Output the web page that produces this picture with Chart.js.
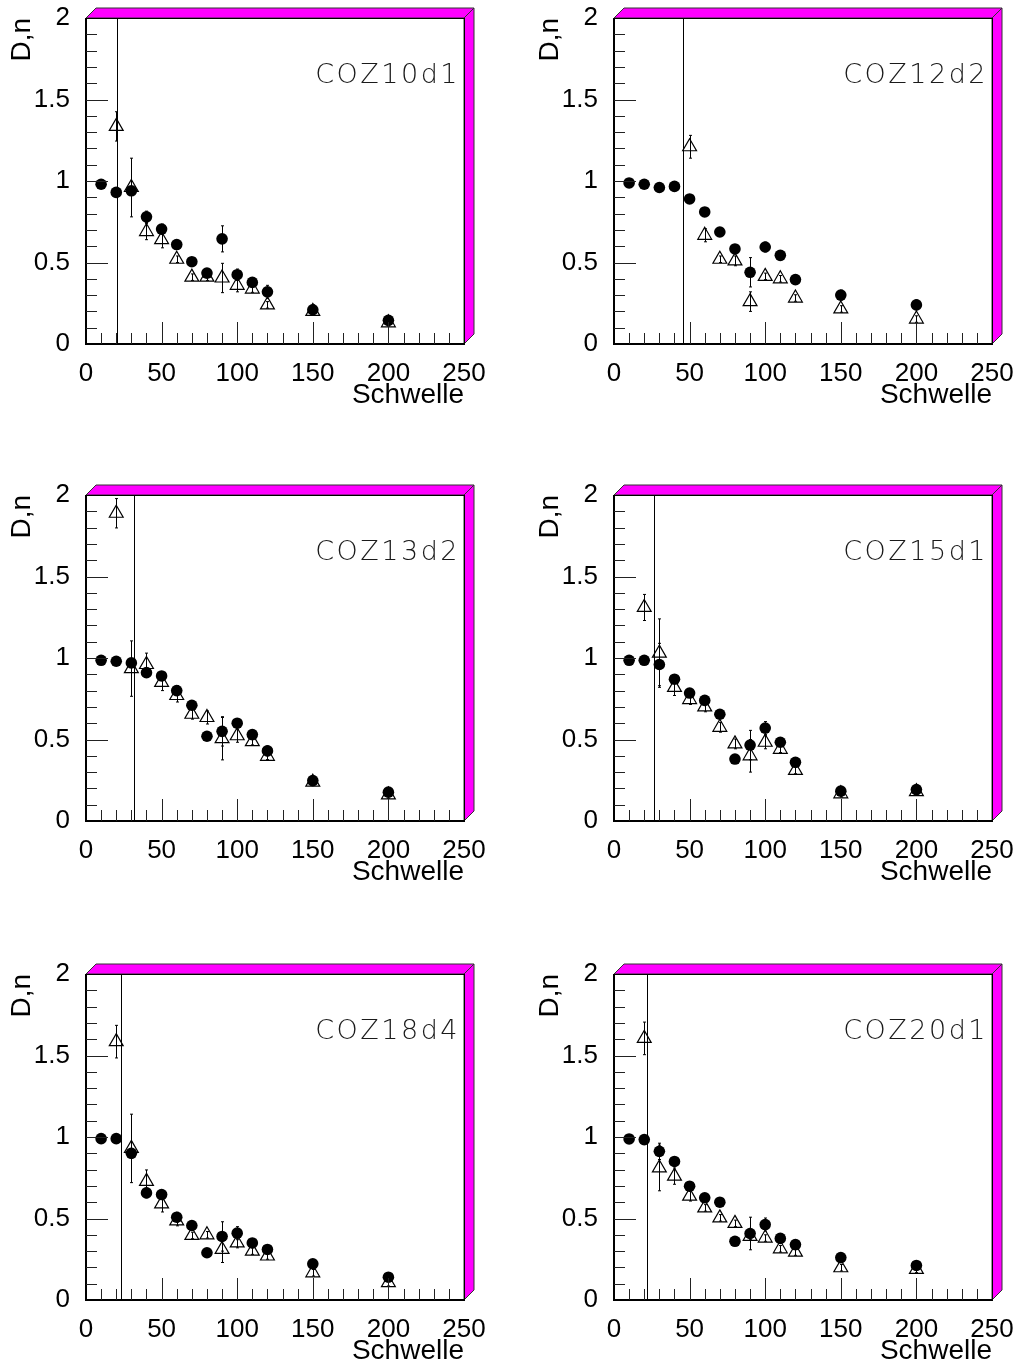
<!DOCTYPE html>
<html>
<head>
<meta charset="utf-8">
<script src="https://cdn.jsdelivr.net/npm/chart.js@4.4.1/dist/chart.umd.min.js"></script>
<style>
  html, body { margin: 0; padding: 0; background: #fff; }
  #wrap { position: relative; width: 1023px; height: 1368px; overflow: hidden; }
  #wrap canvas { position: absolute; }
</style>
</head>
<body>
<div id="wrap"></div>
<script>
// Schwelle values (x), shared by all six panels
const schwelle = [10, 20, 30, 40, 50, 60, 70, 80, 90, 100, 110, 120, 150, 200];
const xTicks = [0, 50, 100, 150, 200, 250];
const yTicks = [0, 0.5, 1, 1.5, 2];

// filled circles
const dotsCOZ10d1 = [0.98, 0.93, 0.94, 0.78, 0.705, 0.61, 0.505, 0.435, 0.645, 0.425, 0.378, 0.32, 0.21, 0.145];
const dotsCOZ12d2 = [0.988, 0.98, 0.96, 0.967, 0.89, 0.81, 0.687, 0.583, 0.44, 0.595, 0.544, 0.395, 0.30, 0.24];
const dotsCOZ13d2 = [0.986, 0.98, 0.97, 0.91, 0.89, 0.80, 0.71, 0.52, 0.55, 0.60, 0.53, 0.43, 0.248, 0.177];
const dotsCOZ15d1 = [0.986, 0.986, 0.96, 0.87, 0.785, 0.74, 0.655, 0.38, 0.466, 0.57, 0.483, 0.36, 0.183, 0.193];
const dotsCOZ18d4 = [0.99, 0.99, 0.90, 0.657, 0.647, 0.508, 0.457, 0.29, 0.39, 0.41, 0.35, 0.31, 0.222, 0.14];
const dotsCOZ20d1 = [0.988, 0.984, 0.912, 0.85, 0.698, 0.627, 0.60, 0.36, 0.408, 0.463, 0.378, 0.34, 0.26, 0.212];

const dotErrCOZ10d1 = [0.01, 0.01, 0.02, 0.035, 0.03, 0.02, 0.02, 0.02, 0.08, 0.035, 0.02, 0.04, 0.03, 0.02];
const dotErrCOZ12d2 = [0.01, 0.01, 0.01, 0.01, 0.01, 0.015, 0.015, 0.02, 0.09, 0.03, 0.02, 0.03, 0.03, 0.03];
const dotErrCOZ13d2 = [0.01, 0.01, 0.02, 0.02, 0.02, 0.03, 0.02, 0.02, 0.09, 0.02, 0.02, 0.03, 0.02, 0.02];
const dotErrCOZ15d1 = [0.01, 0.01, 0.13, 0.02, 0.02, 0.02, 0.02, 0.02, 0.09, 0.04, 0.02, 0.02, 0.02, 0.02];
const dotErrCOZ18d4 = [0.01, 0.01, 0.03, 0.03, 0.02, 0.03, 0.02, 0.02, 0.09, 0.04, 0.02, 0.02, 0.02, 0.02];
const dotErrCOZ20d1 = [0.01, 0.01, 0.05, 0.02, 0.02, 0.02, 0.02, 0.02, 0.10, 0.04, 0.02, 0.02, 0.02, 0.02];

// open triangles
const trisCOZ10d1 = [null, 1.335, 0.96, 0.69, 0.64, 0.52, 0.41, 0.41, 0.405, 0.36, 0.337, 0.24, 0.20, 0.13];
const trisCOZ12d2 = [null, null, null, null, 1.21, 0.667, 0.52, 0.51, 0.26, 0.415, 0.40, 0.282, 0.215, 0.153];
const trisCOZ13d2 = [null, 1.888, 0.935, 0.96, 0.85, 0.77, 0.655, 0.635, 0.505, 0.523, 0.487, 0.397, 0.238, 0.16];
const trisCOZ15d1 = [null, 1.31, 1.03, 0.82, 0.745, 0.70, 0.575, 0.473, 0.40, 0.483, 0.44, 0.31, 0.167, 0.18];
const trisCOZ18d4 = [null, 1.585, 0.93, 0.728, 0.59, 0.485, 0.396, 0.40, 0.31, 0.35, 0.30, 0.27, 0.167, 0.106];
const trisCOZ20d1 = [null, 1.605, 0.81, 0.76, 0.637, 0.565, 0.504, 0.47, 0.39, 0.38, 0.314, 0.294, 0.198, 0.188];

const triErrCOZ10d1 = [null, 0.09, 0.18, 0.05, 0.05, 0.02, 0.02, 0.02, 0.09, 0.04, 0.02, 0.02, 0.02, 0.02];
const triErrCOZ12d2 = [null, null, null, null, 0.07, 0.04, 0.02, 0.03, 0.06, 0.02, 0.02, 0.02, 0.02, 0.02];
const triErrCOZ13d2 = [null, 0.09, 0.17, 0.07, 0.05, 0.04, 0.03, 0.04, 0.13, 0.04, 0.02, 0.02, 0.02, 0.02];
const triErrCOZ15d1 = [null, 0.08, 0.21, 0.05, 0.03, 0.03, 0.03, 0.03, 0.10, 0.04, 0.02, 0.02, 0.02, 0.02];
const triErrCOZ18d4 = [null, 0.10, 0.21, 0.07, 0.05, 0.03, 0.02, 0.02, 0.08, 0.03, 0.02, 0.02, 0.02, 0.02];
const triErrCOZ20d1 = [null, 0.10, 0.14, 0.05, 0.03, 0.02, 0.02, 0.02, 0.02, 0.02, 0.02, 0.02, 0.02, 0.02];

// vertical cut line position per panel
const cutCOZ = [20.3, 45.6, 31.6, 26.2, 23.0, 22.0];
const namesCOZ = ['COZ10d1', 'COZ12d2', 'COZ13d2', 'COZ15d1', 'COZ18d4', 'COZ20d1'];

const panels = [
  { dots: dotsCOZ10d1, dotErr: dotErrCOZ10d1, tris: trisCOZ10d1, triErr: triErrCOZ10d1 },
  { dots: dotsCOZ12d2, dotErr: dotErrCOZ12d2, tris: trisCOZ12d2, triErr: triErrCOZ12d2 },
  { dots: dotsCOZ13d2, dotErr: dotErrCOZ13d2, tris: trisCOZ13d2, triErr: triErrCOZ13d2 },
  { dots: dotsCOZ15d1, dotErr: dotErrCOZ15d1, tris: trisCOZ15d1, triErr: triErrCOZ15d1 },
  { dots: dotsCOZ18d4, dotErr: dotErrCOZ18d4, tris: trisCOZ18d4, triErr: triErrCOZ18d4 },
  { dots: dotsCOZ20d1, dotErr: dotErrCOZ20d1, tris: trisCOZ20d1, triErr: triErrCOZ20d1 }
];

const FONT = "'Liberation Sans', Arial, Helvetica, sans-serif";

function toPoints(ys) {
  const out = [];
  ys.forEach((y, i) => { if (y != null) out.push({ x: schwelle[i], y }); });
  return out;
}

// keep the plot box where layout.padding puts it
function noScalePad(s) {
  s.paddingTop = 0; s.paddingBottom = 0; s.paddingLeft = 0; s.paddingRight = 0;
}

// error bars + cut line under the markers, frame/ticks/label on top
const errPlugin = {
  id: 'errbars',
  beforeDatasetsDraw(chart, args, p) {
    const { ctx, chartArea: a } = chart;
    const xs = chart.scales.x, ys = chart.scales.y;
    ctx.save();
    ctx.strokeStyle = '#000';
    ctx.lineWidth = 1;
    const cx = Math.round(xs.getPixelForValue(p.cut)) + 0.5;
    ctx.beginPath();
    ctx.moveTo(cx, a.top);
    ctx.lineTo(cx, a.bottom);
    ctx.stroke();
    const bars = (vals, errs) => {
      vals.forEach((v, i) => {
        if (v == null || !errs[i]) return;
        const px = Math.round(xs.getPixelForValue(schwelle[i])) + 0.5;
        const y1 = ys.getPixelForValue(v + errs[i]);
        const y2 = ys.getPixelForValue(v - errs[i]);
        ctx.beginPath();
        ctx.moveTo(px, y1); ctx.lineTo(px, y2);
        ctx.moveTo(px - 1.5, y1); ctx.lineTo(px + 1.5, y1);
        ctx.moveTo(px - 1.5, y2); ctx.lineTo(px + 1.5, y2);
        ctx.stroke();
      });
    };
    bars(p.dots, p.dotErr);
    bars(p.tris, p.triErr);
    ctx.restore();
  },
  afterDraw(chart, args, p) {
    const { ctx, chartArea: a } = chart;
    const xs = chart.scales.x, ys = chart.scales.y;
    const d = 10;
    ctx.save();
    // magenta 3D border
    ctx.fillStyle = '#ff00ff';
    ctx.strokeStyle = '#333';
    ctx.lineWidth = 1;
    ctx.beginPath();
    ctx.moveTo(a.left, a.top);
    ctx.lineTo(a.left + d, a.top - d);
    ctx.lineTo(a.right + d, a.top - d);
    ctx.lineTo(a.right, a.top);
    ctx.closePath();
    ctx.fill(); ctx.stroke();
    ctx.beginPath();
    ctx.moveTo(a.right, a.top);
    ctx.lineTo(a.right + d, a.top - d);
    ctx.lineTo(a.right + d, a.bottom - d);
    ctx.lineTo(a.right, a.bottom);
    ctx.closePath();
    ctx.fill(); ctx.stroke();

    // frame
    ctx.strokeStyle = '#000';
    ctx.lineWidth = 1;
    ctx.strokeRect(a.left + 0.5, a.top + 0.5, a.right - a.left, a.bottom - a.top);
    ctx.lineWidth = 2;
    ctx.beginPath();
    ctx.moveTo(a.left, a.top);
    ctx.lineTo(a.left, a.bottom);
    ctx.lineTo(a.right, a.bottom);
    ctx.stroke();

    // inner ticks
    ctx.lineWidth = 1;
    ctx.strokeStyle = '#222';
    ctx.beginPath();
    for (let v = 10; v < 250; v += 10) {
      const px = Math.round(xs.getPixelForValue(v)) + 0.5;
      const len = v % 50 === 0 ? 22 : 11;
      ctx.moveTo(px, a.bottom);
      ctx.lineTo(px, a.bottom - len);
    }
    for (let k = 1; k < 20; k++) {
      const py = Math.round(ys.getPixelForValue(k / 10)) + 0.5;
      const len = k % 5 === 0 ? 22 : 11;
      ctx.moveTo(a.left, py);
      ctx.lineTo(a.left + len, py);
    }
    ctx.stroke();

    // panel label
    ctx.fillStyle = '#1a1a1a';
    ctx.font = "200 27px 'DejaVu Sans', sans-serif";
    ctx.letterSpacing = '2.5px';
    ctx.textAlign = 'right';
    ctx.textBaseline = 'alphabetic';
    ctx.fillText(p.name, a.right - 4, a.top + 65);
    ctx.restore();
  }
};

const wrap = document.getElementById('wrap');
panels.forEach((p, i) => {
  p.name = namesCOZ[i];
  p.cut = cutCOZ[i];
  const col = i % 2, row = Math.floor(i / 2);
  const cv = document.createElement('canvas');
  cv.width = 495; cv.height = 412;
  cv.style.left = (col * 528) + 'px';
  cv.style.top = [0, 477, 956][row] + 'px';
  wrap.appendChild(cv);

  new Chart(cv, {
    type: 'scatter',
    data: {
      datasets: [
        { label: 'n', data: toPoints(p.tris), pointStyle: 'triangle', pointRadius: 8,
          backgroundColor: 'rgba(0,0,0,0)', borderColor: '#000', borderWidth: 1.2 },
        { label: 'D', data: toPoints(p.dots), pointStyle: 'circle', pointRadius: 5.8,
          backgroundColor: '#000', borderColor: '#000', borderWidth: 0 }
      ]
    },
    options: {
      responsive: false,
      maintainAspectRatio: false,
      animation: false,
      devicePixelRatio: 1,
      layout: { padding: { left: 0, top: 18, right: 31, bottom: 0 } },
      plugins: { legend: { display: false }, tooltip: { enabled: false }, errbars: p },
      scales: {
        x: {
          type: 'linear', min: 0, max: 250,
          afterBuildTicks: s => { s.ticks = xTicks.map(v => ({ value: v })); },
          afterFit: s => { s.height = 68; noScalePad(s); },
          grid: { display: false, drawTicks: false },
          border: { display: false },
          ticks: { color: '#000', padding: 14, maxRotation: 0, autoSkip: false,
                   callback: v => String(v), font: { family: FONT, size: 26 } },
          title: { display: true, text: 'Schwelle', align: 'end', color: '#000', padding: 0, font: { family: FONT, size: 28 } }
        },
        y: {
          type: 'linear', min: 0, max: 2,
          afterBuildTicks: s => { s.ticks = yTicks.map(v => ({ value: v })); },
          afterFit: s => { s.width = 86; noScalePad(s); },
          grid: { display: false, drawTicks: false },
          border: { display: false },
          ticks: { color: '#000', padding: 16, callback: v => String(v), font: { family: FONT, size: 26 } },
          title: { display: true, text: 'D,n', align: 'end', color: '#000', padding: { top: 5, bottom: 0 }, font: { family: FONT, size: 28 } }
        }
      }
    },
    plugins: [errPlugin]
  });
});
</script>
</body>
</html>
